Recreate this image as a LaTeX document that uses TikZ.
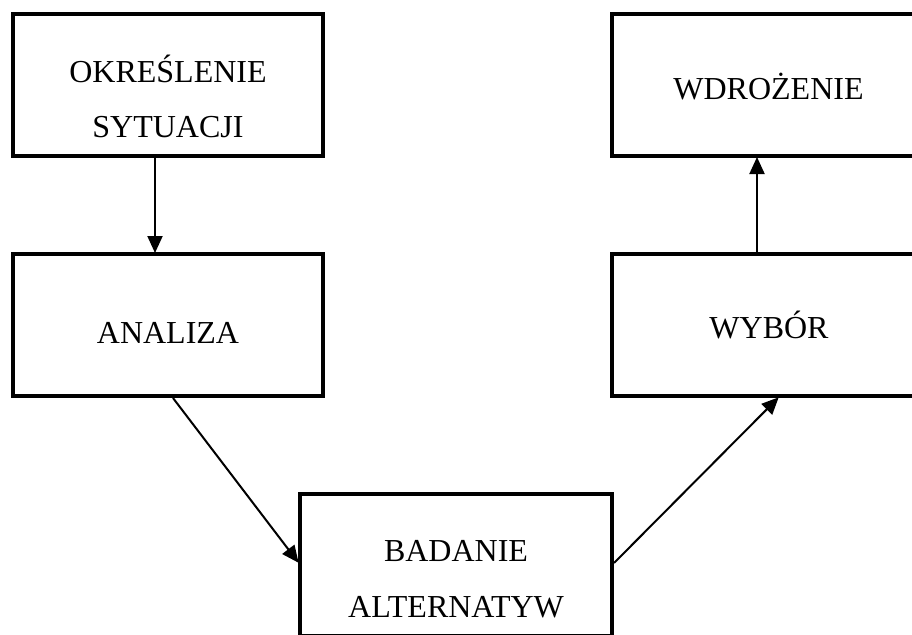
\documentclass[tikz,border=0pt]{standalone}
\usepackage{fontspec}
\setmainfont{Liberation Serif}
\usetikzlibrary{arrows.meta}
\begin{document}
\begin{tikzpicture}[x=1pt,y=-1pt,
  stage/.style={draw=black,line width=4pt,fill=white,minimum height=142pt,inner sep=0pt},
  lbl/.style={anchor=base,inner sep=0pt,font=\fontsize{32}{38}\selectfont},
  arr/.style={-{Triangle[length=17pt,width=15pt]},line width=2pt,shorten >=-1pt}]
\useasboundingbox (0,0) rectangle (912,634);
\clip (0,0) rectangle (912,634);
\fill[white] (0,0) rectangle (912,634);

% stage boxes
\node[stage,minimum width=310pt] (opis) at (168,85) {};
\node[stage,minimum width=313pt] (wdroz) at (768.5,85) {};
\node[stage,minimum width=310pt] (anal) at (168,325) {};
\node[stage,minimum width=313pt] (wyb) at (768.5,325) {};
\node[stage,minimum width=312pt] (bad) at (456,564.5) {};

% labels
\node[lbl] (opisA) at (168,82) {OKREŚLENIE};
\node[lbl] (opisB) at (168,137) {SYTUACJI};
\node[lbl] (wdrozA) at (768.5,99) {WDROŻENIE};
\node[lbl] (analA) at (168,343) {ANALIZA};
\node[lbl] (wybA) at (769,338) {WYBÓR};
\node[lbl] (badA) at (456,561) {BADANIE};
\node[lbl] (badB) at (456,617) {ALTERNATYW};

% flow
\draw[arr] ([xshift=-13pt]opis.south) -- ([xshift=-13pt]anal.north);
\draw[arr] ([xshift=5pt]anal.south) -- ([yshift=2.5pt]bad.west);
\draw[arr] ([yshift=1.5pt]bad.east) -- ([xshift=9.5pt]wyb.south);
\draw[arr] ([xshift=-11.5pt]wyb.north) -- ([xshift=-11.5pt]wdroz.south);
\end{tikzpicture}
\end{document}
